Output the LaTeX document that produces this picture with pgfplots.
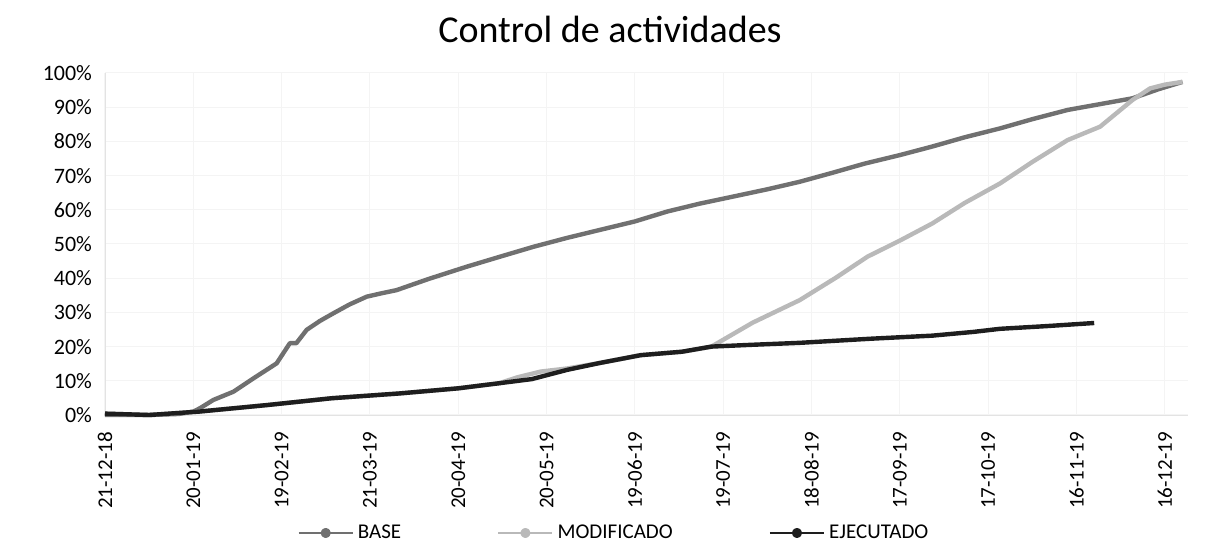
\documentclass[border=0pt]{standalone}
\usepackage{pgfplots}
\pgfplotsset{compat=1.18}
\usepackage{fontspec}
\setmainfont{Carlito}
\definecolor{basecol}{RGB}{112,112,112}
\definecolor{modcol}{RGB}{185,185,185}
\definecolor{ejecol}{RGB}{30,30,30}
\begin{document}
\begin{tikzpicture}
\useasboundingbox (-52.5pt,-68pt) rectangle (553.5pt,207.5pt);
\begin{axis}[
  scale only axis, width=541.7pt, height=171pt,
  at={(0,0)}, anchor=south west,
  xmin=0, xmax=368, ymin=0, ymax=100, clip=false,
  xtick={0,30,...,360},
  xticklabels={21-12-18,20-01-19,19-02-19,21-03-19,20-04-19,20-05-19,19-06-19,19-07-19,18-08-19,17-09-19,17-10-19,16-11-19,16-12-19},
  ytick={0,10,...,100},
  yticklabels={0\%,10\%,20\%,30\%,40\%,50\%,60\%,70\%,80\%,90\%,100\%},
  xticklabel style={rotate=90, anchor=east, font=\fontsize{10.5}{12}\selectfont, xshift=-5pt},
  yticklabel style={font=\fontsize{11}{13}\selectfont, xshift=-3pt},
  major tick length=0pt,
  ymajorgrids, xmajorgrids,
  major grid style={gray!9, line width=0.5pt},
  axis x line*=bottom, axis y line*=left,
  axis line style={gray!22, -},
  legend columns=3,
  legend style={draw=none, fill=none, at={(0.4707,-0.345)}, anchor=center,
    font=\fontsize{10.5}{12}\selectfont,
    /tikz/every even column/.append style={column sep=46pt}},
  legend cell align=left,
]
\addplot[basecol, line width=2.2pt, line join=round,
  legend image code/.code={\draw[basecol, line width=1.2pt] (0pt,0pt) -- (27pt,0pt); \fill[basecol] (13.5pt,0pt) circle (1.4pt);}]
coordinates {
(0,0)(15,0)(25,0.3)(30,1)(32.3,2)(36.8,4.4)(43.6,6.8)(50.4,10.7)(54.9,13.2)(58.3,15.1)(62.8,21)(65,21)(68.5,24.9)(73,27.5)(77.5,29.7)(83,32.3)(88.9,34.6)(94,35.6)(99,36.5)(110,39.8)(123,43.4)(135,46.5)(145.6,49.2)(157,51.8)(168,54.1)(180,56.6)(191,59.5)(202,61.8)(213,63.8)(225,66)(236,68.2)(247,70.8)(258,73.5)(270,76)(281,78.5)(292,81.2)(304,83.8)(315,86.5)(327,89.2)(338,90.9)(349,92.6)(358,95.3)(366,97.4)
};
\addlegendentry{BASE}
\addplot[modcol, line width=2.2pt, line join=round,
  legend image code/.code={\draw[modcol, line width=1.2pt] (0pt,0pt) -- (27pt,0pt); \fill[modcol] (13.5pt,0pt) circle (1.4pt);}]
coordinates {
(0,0.4)(15,0)(32,1)(55,2.9)(77,4.9)(100,6.3)(120,7.8)(134,9.3)(140,11)(148,12.7)(157,13.6)(168,15.2)(182,17.5)(196,18.5)(206,20)(220,27)(236,33.6)(248,40)(259,46.3)(270,51)(281,56)(292,62)(304,67.7)(315,74)(327,80.4)(338,84.3)(349,92.1)(355,95.5)(360,96.6)(366,97.4)
};
\addlegendentry{MODIFICADO}
\addplot[ejecol, line width=2.2pt, line join=round,
  legend image code/.code={\draw[ejecol, line width=1.2pt] (0pt,0pt) -- (27pt,0pt); \fill[ejecol] (13.5pt,0pt) circle (1.4pt);}]
coordinates {
(0,0.4)(15,0)(32,1)(55,2.9)(77,4.9)(100,6.3)(120,7.8)(134,9.3)(145,10.5)(157,13.2)(168,15.2)(182,17.5)(196,18.5)(206,20)(219,20.5)(236,21.1)(260,22.3)(281,23.2)(295,24.3)(304,25.2)(320,26)(336,26.9)
};
\addlegendentry{EJECUTADO}
\end{axis}
\node[anchor=base, font=\fontsize{19}{23}\selectfont] at (252.5pt,186pt) {Control de actividades};
\end{tikzpicture}
\end{document}
